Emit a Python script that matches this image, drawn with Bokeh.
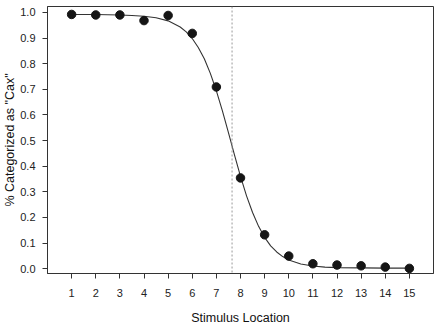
from bokeh.plotting import figure
from bokeh.models import Range1d, FixedTicker, Span, NumeralTickFormatter
from bokeh.embed import file_html
from bokeh.resources import INLINE

# Observed data
stimulus = [1, 2, 3, 4, 5, 6, 7, 8, 9, 10, 11, 12, 13, 14, 15]
pct_cax = [0.992, 0.990, 0.990, 0.968, 0.988, 0.918, 0.709, 0.354, 0.132, 0.049, 0.019, 0.014, 0.011, 0.006, 0.001]

# Fitted curve
curve_x = [1, 1.5, 2, 2.5, 3, 3.5, 4, 4.5, 5, 5.5, 5.75, 6, 6.25, 6.5, 6.75, 7, 7.25, 7.5,
           7.75, 8, 8.25, 8.5, 8.75, 9, 9.25, 9.5, 9.75, 10, 10.5, 11, 11.5, 12, 13, 14, 15]
curve_y = [0.992, 0.992, 0.992, 0.991, 0.990, 0.988, 0.985, 0.979, 0.967, 0.943, 0.924, 0.898,
           0.863, 0.819, 0.762, 0.694, 0.616, 0.531, 0.444, 0.360, 0.284, 0.219, 0.165, 0.122,
           0.089, 0.065, 0.047, 0.034, 0.018, 0.010, 0.006, 0.004, 0.003, 0.002, 0.002]

boundary = 7.65
x_ticks = list(range(1, 16))
y_ticks = [0.0, 0.1, 0.2, 0.3, 0.4, 0.5, 0.6, 0.7, 0.8, 0.9, 1.0]

FONT = "Liberation Sans"
AX = "#333333"

p = figure(width=436, height=327, output_backend="svg", toolbar_location=None,
           x_range=Range1d(0, 16), y_range=Range1d(-0.019, 1.023),
           min_border_top=6, min_border_right=3, min_border_left=10, min_border_bottom=50)
p.background_fill_color = "white"
p.border_fill_color = "white"
p.outline_line_color = AX
p.outline_line_width = 1
p.xgrid.visible = False
p.ygrid.visible = False

# Boundary
p.add_layout(Span(location=boundary, dimension="height", line_color="#9a9a9a",
                  line_dash="2 2", line_width=1))

p.line(curve_x, curve_y, line_color="#333333", line_width=1.1)
p.scatter(stimulus, pct_cax, size=8.5, fill_color="#151515", line_color="#151515")

for ax in (p.xaxis[0], p.yaxis[0]):
    ax.axis_line_color = AX
    ax.major_tick_line_color = AX
    ax.minor_tick_line_color = None
    ax.major_tick_in = 0
    ax.major_tick_out = 5
    ax.major_label_text_font = FONT
    ax.major_label_text_font_size = "11px"
    ax.major_label_text_color = "#222222"
    ax.axis_label_text_font = FONT
    ax.axis_label_text_font_size = "12.5px"
    ax.axis_label_text_font_style = "normal"
    ax.axis_label_text_color = "#111111"

p.xaxis.ticker = FixedTicker(ticks=x_ticks)
p.yaxis.ticker = FixedTicker(ticks=y_ticks)
p.yaxis.formatter = NumeralTickFormatter(format="0.0")
p.xaxis.axis_label = "Stimulus Location"
p.yaxis.axis_label = '% Categorized as "Cax"'
p.xaxis.major_label_standoff = 10
p.xaxis.axis_label_standoff = 11
p.yaxis.major_label_standoff = 7
p.yaxis.axis_label_standoff = 0

open("out.html", "w").write(file_html(p, INLINE))
